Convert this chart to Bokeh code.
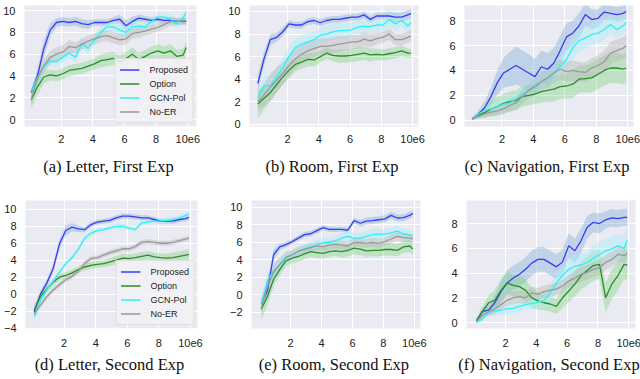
from bokeh.plotting import figure
from bokeh.layouts import row, column
from bokeh.models import Range1d, FixedTicker
from bokeh.embed import file_html
from bokeh.resources import INLINE

# ---------------- data ----------------
X = [0.1, 0.5, 0.9, 1.3, 1.7, 2.1, 2.5, 2.9, 3.3, 3.7, 4.1, 4.5, 4.9,
     5.3, 5.7, 6.1, 6.5, 6.9, 7.3, 7.7, 8.1, 8.5, 8.9, 9.3, 9.7, 9.9]

NAMES = ["Proposed", "Option", "GCN-Pol", "No-ER"]
XTICKS = [2, 4, 6, 8, 10]
XTICK_LABELS = {10: "10e6"}

# (a) Letter, First Exp
A_PROPOSED = [2.5, 4.0, 6.5, 8.2, 8.9, 9.0, 8.9, 9.0, 8.8, 8.7, 8.9, 8.9, 8.9, 9.1, 9.2, 8.6, 9.0, 9.3, 9.2, 9.1, 9.2, 9.1, 9.1, 9.0, 9.0, 9.0]
A_OPTION = [1.8, 3.0, 3.9, 4.1, 4.0, 4.2, 4.5, 4.6, 4.7, 4.9, 5.1, 5.4, 5.5, 5.6, 5.3, 5.6, 6.0, 5.5, 5.8, 6.1, 6.3, 6.1, 6.3, 5.8, 5.9, 6.6]
A_GCN = [2.6, 3.8, 4.9, 5.4, 5.3, 5.7, 6.1, 5.7, 7.0, 6.5, 7.3, 8.0, 8.5, 8.5, 8.2, 8.0, 8.5, 8.6, 8.5, 9.0, 9.4, 9.4, 9.2, 8.8, 9.3, 9.8]
A_NOER = [1.8, 3.8, 4.9, 5.7, 6.0, 6.2, 6.7, 6.6, 6.9, 7.2, 7.4, 7.6, 7.7, 7.5, 7.3, 7.4, 7.9, 8.0, 8.1, 8.3, 8.45, 8.7, 9.0, 9.0, 9.05, 9.05]
A_PROPOSED_SD = [0.3, 0.6, 0.8, 0.6, 0.4, 0.4, 0.4, 0.4, 0.4, 0.4, 0.3, 0.3, 0.3, 0.3, 0.4, 0.5, 0.4, 0.3, 0.3, 0.3, 0.3, 0.3, 0.3, 0.3, 0.3, 0.3]
A_OPTION_SD = [0.8, 0.7, 0.6, 0.5, 0.5, 0.5, 0.5, 0.5, 0.5, 0.5, 0.5, 0.6, 0.6, 0.6, 0.6, 0.6, 0.6, 0.6, 0.6, 0.6, 0.6, 0.6, 0.6, 0.6, 0.6, 0.6]
A_GCN_SD = [0.3, 0.4, 0.5, 0.5, 0.5, 0.5, 0.5, 0.5, 0.5, 0.5, 0.5, 0.5, 0.5, 0.5, 0.5, 0.5, 0.5, 0.5, 0.5, 0.4, 0.4, 0.4, 0.4, 0.4, 0.4, 0.4]
A_NOER_SD = [0.6, 0.6, 0.6, 0.6, 0.6, 0.6, 0.6, 0.5, 0.5, 0.5, 0.5, 0.5, 0.5, 0.5, 0.5, 0.5, 0.5, 0.5, 0.4, 0.4, 0.4, 0.4, 0.4, 0.3, 0.3, 0.3]

# (b) Room, First Exp
B_PROPOSED = [3.6, 5.8, 7.5, 7.7, 8.2, 8.9, 8.8, 8.8, 9.1, 9.2, 9.0, 9.2, 9.3, 9.3, 9.4, 9.5, 9.5, 9.7, 9.3, 9.6, 9.6, 9.6, 9.5, 9.5, 9.7, 9.8]
B_OPTION = [1.8, 2.3, 2.8, 3.5, 4.2, 4.8, 5.3, 5.5, 5.75, 5.7, 6.0, 6.3, 6.1, 6.05, 6.05, 6.1, 6.2, 6.3, 6.15, 6.2, 6.15, 6.25, 6.35, 6.5, 6.3, 6.3]
B_GCN = [2.3, 3.4, 3.4, 4.2, 5.0, 6.0, 6.8, 7.1, 7.3, 7.5, 7.9, 8.0, 8.2, 8.3, 8.3, 8.4, 8.6, 8.7, 8.65, 8.8, 8.8, 9.3, 8.9, 9.2, 8.7, 9.0]
B_NOER = [2.0, 2.6, 3.3, 3.9, 4.5, 5.2, 5.8, 6.2, 6.5, 6.7, 6.9, 6.9, 7.0, 7.1, 7.2, 7.3, 7.3, 7.55, 7.4, 7.6, 7.7, 8.0, 7.5, 7.5, 7.7, 7.85]
B_PROPOSED_SD = [0.8, 0.6, 0.5, 0.4, 0.4, 0.3, 0.3, 0.3, 0.3, 0.3, 0.3, 0.3, 0.3, 0.3, 0.3, 0.3, 0.3, 0.3, 0.3, 0.3, 0.3, 0.4, 0.4, 0.4, 0.4, 0.4]
B_OPTION_SD = [1.3, 1.0, 0.8, 0.7, 0.7, 0.7, 0.6, 0.6, 0.6, 0.6, 0.5, 0.5, 0.5, 0.6, 0.6, 0.6, 0.6, 0.6, 0.6, 0.5, 0.5, 0.5, 0.5, 0.5, 0.4, 0.4]
B_GCN_SD = [0.8, 0.9, 0.9, 0.9, 0.9, 0.9, 0.8, 0.8, 0.8, 0.7, 0.7, 0.7, 0.7, 0.7, 0.7, 0.6, 0.6, 0.6, 0.6, 0.6, 0.6, 0.6, 0.6, 0.6, 0.6, 0.6]
B_NOER_SD = [0.8, 1.0, 1.2, 1.1, 1.0, 0.9, 0.9, 0.8, 0.8, 0.8, 0.7, 0.7, 0.7, 0.7, 0.6, 0.6, 0.6, 0.6, 0.6, 0.5, 0.5, 0.5, 0.5, 0.5, 0.5, 0.5]

# (c) Navigation, First Exp
C_PROPOSED = [0.1, 0.5, 1.0, 1.9, 3.0, 3.8, 4.1, 4.4, 4.1, 3.8, 3.5, 4.3, 4.1, 4.6, 5.6, 6.7, 7.0, 7.6, 8.5, 8.1, 8.2, 8.7, 8.6, 8.5, 8.6, 8.75]
C_OPTION = [0.1, 0.4, 0.6, 0.9, 1.1, 1.35, 1.5, 1.6, 1.9, 2.0, 2.1, 2.3, 2.4, 2.5, 2.7, 2.75, 2.9, 3.3, 3.35, 3.4, 3.7, 4.0, 4.2, 4.2, 4.1, 4.2]
C_GCN = [0.1, 0.5, 0.8, 0.9, 1.1, 1.3, 1.4, 1.7, 2.1, 2.4, 2.8, 3.1, 3.4, 3.8, 4.3, 4.9, 5.8, 6.4, 6.6, 6.9, 7.0, 7.3, 7.7, 7.3, 7.6, 7.85]
C_NOER = [0.1, 0.3, 0.5, 0.65, 0.75, 0.9, 1.2, 1.4, 1.9, 2.4, 2.7, 3.1, 3.4, 3.8, 4.1, 3.9, 4.0, 3.9, 3.85, 4.2, 4.4, 4.7, 5.4, 5.6, 5.8, 6.0]
C_PROPOSED_SD = [0.1, 0.3, 0.5, 0.7, 1.0, 1.2, 1.4, 1.5, 1.5, 1.5, 1.4, 1.3, 1.3, 1.2, 1.2, 1.1, 1.0, 1.0, 0.9, 0.8, 0.7, 0.7, 0.6, 0.6, 0.6, 0.6]
C_OPTION_SD = [0.1, 0.2, 0.4, 0.6, 0.7, 0.8, 0.8, 0.8, 0.8, 0.8, 0.8, 0.9, 0.9, 1.0, 1.0, 1.0, 1.1, 1.1, 1.1, 1.2, 1.2, 1.2, 1.2, 1.2, 1.2, 1.2]
C_GCN_SD = [0.1, 0.2, 0.3, 0.4, 0.4, 0.5, 0.5, 0.5, 0.6, 0.6, 0.6, 0.7, 0.7, 0.8, 0.8, 0.9, 0.9, 0.9, 0.9, 0.9, 0.8, 0.8, 0.7, 0.7, 0.7, 0.7]
C_NOER_SD = [0.1, 0.2, 0.3, 0.3, 0.4, 0.4, 0.5, 0.5, 0.6, 0.6, 0.7, 0.7, 0.8, 0.8, 0.8, 0.8, 0.8, 0.8, 0.8, 0.8, 0.8, 0.9, 0.9, 0.9, 0.9, 0.9]

# (d) Letter, Second Exp
D_PROPOSED = [-2.1, 0.0, 1.3, 3.0, 5.9, 7.5, 7.9, 7.7, 7.6, 8.2, 8.5, 8.6, 8.7, 9.0, 9.2, 9.2, 9.1, 9.0, 9.0, 8.8, 8.6, 8.6, 8.6, 8.8, 8.9, 9.05]
D_OPTION = [-1.9, -0.3, 0.6, 1.4, 2.0, 2.2, 2.5, 2.9, 3.2, 3.4, 3.5, 3.6, 3.8, 4.0, 4.25, 4.2, 4.3, 4.45, 4.6, 4.4, 4.3, 4.25, 4.3, 4.45, 4.6, 4.7]
D_GCN = [-2.6, -0.8, 0.5, 1.5, 2.6, 3.6, 4.3, 5.3, 6.6, 7.2, 7.5, 7.6, 7.8, 8.0, 8.0, 7.8, 7.6, 8.4, 8.5, 8.6, 8.6, 8.7, 8.8, 9.0, 9.3, 9.45]
D_NOER = [-2.3, -1.3, -0.3, 0.5, 1.1, 1.7, 2.1, 2.7, 3.6, 4.2, 4.3, 4.6, 4.9, 5.1, 5.35, 5.35, 5.6, 6.1, 6.2, 6.1, 6.0, 6.0, 6.1, 6.3, 6.5, 6.6]
D_PROPOSED_SD = [0.5, 0.4, 0.4, 0.5, 0.6, 0.6, 0.5, 0.4, 0.3, 0.3, 0.3, 0.3, 0.3, 0.3, 0.3, 0.3, 0.3, 0.3, 0.3, 0.3, 0.3, 0.3, 0.3, 0.3, 0.3, 0.3]
D_OPTION_SD = [0.7, 0.5, 0.4, 0.4, 0.4, 0.4, 0.4, 0.4, 0.4, 0.4, 0.4, 0.4, 0.5, 0.5, 0.5, 0.5, 0.5, 0.5, 0.5, 0.5, 0.5, 0.5, 0.6, 0.6, 0.6, 0.6]
D_GCN_SD = [0.6, 0.3, 0.3, 0.3, 0.3, 0.3, 0.3, 0.3, 0.3, 0.3, 0.3, 0.3, 0.3, 0.3, 0.3, 0.3, 0.3, 0.3, 0.3, 0.3, 0.3, 0.3, 0.3, 0.3, 0.3, 0.3]
D_NOER_SD = [0.5, 0.3, 0.3, 0.3, 0.3, 0.3, 0.3, 0.3, 0.3, 0.3, 0.3, 0.3, 0.3, 0.3, 0.3, 0.3, 0.3, 0.3, 0.3, 0.3, 0.3, 0.3, 0.3, 0.3, 0.3, 0.3]

# (e) Room, Second Exp
E_PROPOSED = [-1.0, 0.5, 4.6, 5.5, 5.75, 6.1, 6.5, 6.9, 7.0, 7.35, 7.7, 7.5, 7.5, 7.5, 7.4, 8.5, 8.2, 8.45, 8.5, 8.6, 8.7, 9.1, 8.8, 8.85, 9.1, 9.3]
E_OPTION = [-1.6, -0.2, 1.8, 2.9, 3.9, 4.2, 4.4, 4.7, 4.95, 4.85, 4.75, 4.95, 5.05, 4.95, 5.1, 5.35, 5.25, 5.05, 5.1, 5.1, 5.2, 5.2, 5.1, 5.5, 5.6, 5.25]
E_GCN = [-1.0, 1.6, 2.8, 3.4, 4.2, 4.6, 5.0, 5.3, 5.5, 5.7, 6.0, 6.0, 6.2, 6.5, 6.7, 6.5, 6.5, 6.7, 6.9, 6.95, 6.95, 7.1, 7.3, 7.0, 6.85, 6.75]
E_NOER = [-1.5, 1.0, 2.6, 3.5, 4.3, 4.6, 5.0, 5.2, 5.4, 5.6, 5.5, 5.7, 5.8, 5.7, 5.6, 6.0, 6.0, 5.9, 6.0, 5.9, 6.1, 6.4, 6.7, 6.55, 6.5, 6.4]
E_PROPOSED_SD = [0.5, 1.0, 0.6, 0.4, 0.3, 0.3, 0.3, 0.3, 0.3, 0.3, 0.3, 0.3, 0.3, 0.3, 0.3, 0.3, 0.4, 0.4, 0.4, 0.4, 0.4, 0.4, 0.4, 0.4, 0.4, 0.4]
E_OPTION_SD = [1.2, 1.0, 0.8, 0.7, 0.6, 0.6, 0.6, 0.6, 0.6, 0.6, 0.6, 0.6, 0.6, 0.7, 0.7, 0.7, 0.7, 0.7, 0.7, 0.7, 0.7, 0.7, 0.7, 0.7, 0.7, 0.7]
E_GCN_SD = [0.8, 1.0, 0.9, 0.8, 0.7, 0.6, 0.6, 0.6, 0.6, 0.6, 0.6, 0.6, 0.6, 0.6, 0.6, 0.6, 0.6, 0.6, 0.6, 0.6, 0.6, 0.6, 0.6, 0.6, 0.6, 0.6]
E_NOER_SD = [0.8, 1.0, 0.9, 0.8, 0.6, 0.5, 0.5, 0.5, 0.5, 0.5, 0.5, 0.5, 0.5, 0.5, 0.5, 0.5, 0.5, 0.5, 0.5, 0.5, 0.5, 0.5, 0.5, 0.5, 0.5, 0.5]

# (f) Navigation, Second Exp
F_PROPOSED = [0.1, 0.9, 1.0, 1.6, 2.5, 3.2, 3.6, 3.9, 4.3, 4.8, 5.1, 5.1, 4.8, 4.5, 4.9, 6.2, 5.8, 6.6, 7.7, 8.1, 8.0, 8.3, 8.45, 8.4, 8.5, 8.5]
F_OPTION = [0.15, 0.9, 1.6, 1.8, 2.6, 3.2, 3.0, 2.9, 2.6, 2.0, 1.75, 1.6, 1.5, 1.3, 2.0, 2.55, 3.1, 3.8, 4.2, 4.6, 4.7, 2.0, 3.1, 3.8, 4.7, 4.65]
F_GCN = [0.0, 0.3, 0.8, 0.95, 1.0, 1.1, 1.15, 1.3, 1.45, 1.55, 1.65, 1.8, 2.4, 3.2, 3.8, 4.3, 4.55, 4.65, 4.85, 5.2, 5.5, 5.8, 5.95, 6.2, 6.0, 6.65]
F_NOER = [0.1, 0.55, 0.9, 1.1, 1.45, 1.8, 2.0, 2.1, 2.0, 2.4, 2.3, 2.5, 2.6, 2.7, 2.95, 3.35, 3.6, 3.9, 4.05, 4.3, 4.45, 4.85, 5.1, 5.5, 5.4, 5.6]
F_PROPOSED_SD = [0.1, 0.3, 0.4, 0.6, 0.8, 1.0, 1.0, 1.0, 1.0, 1.0, 1.0, 1.0, 1.0, 1.0, 1.0, 1.0, 1.0, 1.0, 0.9, 0.8, 0.8, 0.7, 0.7, 0.7, 0.7, 0.7]
F_OPTION_SD = [0.2, 0.4, 0.6, 0.8, 0.9, 0.9, 0.9, 0.9, 0.9, 0.8, 0.7, 0.6, 0.6, 0.6, 0.8, 0.9, 1.0, 1.1, 1.2, 1.2, 1.2, 1.2, 1.2, 1.2, 1.2, 1.2]
F_GCN_SD = [0.1, 0.2, 0.3, 0.4, 0.4, 0.4, 0.4, 0.4, 0.4, 0.5, 0.5, 0.6, 0.7, 0.8, 0.8, 0.9, 0.9, 0.9, 0.9, 1.0, 1.0, 1.0, 1.0, 1.0, 1.0, 1.0]
F_NOER_SD = [0.1, 0.2, 0.3, 0.4, 0.4, 0.4, 0.5, 0.5, 0.5, 0.5, 0.5, 0.5, 0.5, 0.5, 0.5, 0.5, 0.6, 0.6, 0.6, 0.6, 0.6, 0.6, 0.6, 0.6, 0.6, 0.6]

CAPTIONS = ["(a)  Letter, First Exp", "(b)  Room, First Exp", "(c)  Navigation, First Exp",
            "(d)  Letter, Second Exp", "(e)  Room, Second Exp", "(f)  Navigation, Second Exp"]

# ---------------- style ----------------
LINE_COLORS = ["#3b3bf5", "#2e8b2e", "#2cf2f2", "#999999"]
BAND_COLORS = ["#7fb0d8", "#6fd46f", "#a8eef8", "#b0b0b0"]
BAND_ALPHA = [0.40, 0.35, 0.45, 0.35]
BG = "#eaeaf2"


def make_panel(caption, series, sds, xr, yr, yticks, L, R, T, B, fw, fh,
               legend=False, label_standoff=4, title_standoff=10):
    p = figure(frame_width=fw, frame_height=fh,
               x_range=Range1d(*xr), y_range=Range1d(*yr),
               min_border_left=L, min_border_right=R,
               min_border_top=T, min_border_bottom=B,
               output_backend="svg", toolbar_location=None,
               title=caption, title_location="below")
    p.background_fill_color = BG
    p.border_fill_color = "white"
    p.outline_line_color = None

    for i, (ys, sd) in enumerate(zip(series, sds)):
        lo = [y - s for y, s in zip(ys, sd)]
        hi = [y + s for y, s in zip(ys, sd)]
        p.varea(x=X, y1=lo, y2=hi, fill_color=BAND_COLORS[i], fill_alpha=BAND_ALPHA[i])
    for i, ys in enumerate(series):
        if legend:
            p.line(X, ys, line_color=LINE_COLORS[i], line_width=1.3, legend_label=NAMES[i])
        else:
            p.line(X, ys, line_color=LINE_COLORS[i], line_width=1.3)

    p.xaxis.ticker = FixedTicker(ticks=XTICKS)
    p.xaxis.major_label_overrides = XTICK_LABELS
    p.yaxis.ticker = FixedTicker(ticks=yticks)
    p.xgrid.ticker = FixedTicker(ticks=XTICKS)
    p.ygrid.ticker = FixedTicker(ticks=yticks)
    p.grid.grid_line_color = "white"
    p.grid.grid_line_width = 1

    for ax in (p.xaxis, p.yaxis):
        ax.axis_line_color = None
        ax.major_tick_line_color = None
        ax.minor_tick_line_color = None
        ax.major_label_text_font = "Liberation Sans"
        ax.major_label_text_font_size = "11px"
        ax.major_label_text_color = "#222222"
    p.xaxis.major_label_standoff = label_standoff
    p.yaxis.major_label_standoff = 3

    p.title.text_font = "Liberation Serif"
    p.title.text_font_size = "16.5px"
    p.title.text_font_style = "normal"
    p.title.text_color = "#111111"
    p.title.align = "center"
    p.title.standoff = title_standoff

    if legend:
        lg = p.legend[0]
        lg.location = "bottom_right"
        lg.margin = 3
        lg.padding = 4
        lg.spacing = 1
        lg.glyph_width = 20
        lg.glyph_height = 13
        lg.label_height = 13
        lg.label_standoff = 10
        lg.label_text_font = "Liberation Sans"
        lg.label_text_font_size = "9px"
        lg.label_text_color = "#222222"
        lg.background_fill_color = "#f2f2f6"
        lg.background_fill_alpha = 0.85
        lg.border_line_color = "#cccccc"
        lg.border_line_width = 1
    return p


Y10 = [0, 2, 4, 6, 8, 10]
Y8 = [0, 2, 4, 6, 8]
YN = [-4, -2, 0, 2, 4, 6, 8, 10]
YE = [-2, 0, 2, 4, 6, 8, 10]

R1_T, R1_B, R1_H = 5, 58, 121
R2_T, R2_B, R2_H = 16, 40, 128

pa = make_panel(CAPTIONS[0], [A_PROPOSED, A_OPTION, A_GCN, A_NOER],
                [A_PROPOSED_SD, A_OPTION_SD, A_GCN_SD, A_NOER_SD],
                (-0.32, 10.55), (-0.64, 10.46), Y10, 12, 29, R1_T, R1_B, 172, R1_H,
                legend=True, label_standoff=2, title_standoff=18)
pb = make_panel(CAPTIONS[1], [B_PROPOSED, B_OPTION, B_GCN, B_NOER],
                [B_PROPOSED_SD, B_OPTION_SD, B_GCN_SD, B_NOER_SD],
                (-0.43, 10.38), (-0.2, 10.53), Y10, 16, 26, R1_T, R1_B, 169, R1_H,
                label_standoff=2, title_standoff=18)
pc = make_panel(CAPTIONS[2], [C_PROPOSED, C_OPTION, C_GCN, C_NOER],
                [C_PROPOSED_SD, C_OPTION_SD, C_GCN_SD, C_NOER_SD],
                (-0.38, 10.36), (-0.51, 9.23), Y8, 20, 8, R1_T, R1_B, 169, R1_H,
                label_standoff=2, title_standoff=18)

pd_ = make_panel(CAPTIONS[3], [D_PROPOSED, D_OPTION, D_GCN, D_NOER],
                 [D_PROPOSED_SD, D_OPTION_SD, D_GCN_SD, D_NOER_SD],
                 (-0.45, 10.45), (-4.05, 11.04), YN, 12, 29, R2_T, R2_B, 172, R2_H,
                 legend=True, title_standoff=7)
pe = make_panel(CAPTIONS[4], [E_PROPOSED, E_OPTION, E_GCN, E_NOER],
                [E_PROPOSED_SD, E_OPTION_SD, E_GCN_SD, E_NOER_SD],
                (-0.53, 10.4), (-3.83, 10.8), YE, 16, 26, R2_T, R2_B, 169, R2_H,
                title_standoff=7)
pf = make_panel(CAPTIONS[5], [F_PROPOSED, F_OPTION, F_GCN, F_NOER],
                [F_PROPOSED_SD, F_OPTION_SD, F_GCN_SD, F_NOER_SD],
                (-0.54, 10.44), (-0.48, 9.86), Y8, 20, 8, R2_T, R2_B, 169, R2_H,
                title_standoff=7)

layout = column(row(pa, pb, pc, spacing=0), row(pd_, pe, pf, spacing=0), spacing=0)

open("out.html", "w").write(file_html(layout, INLINE))
